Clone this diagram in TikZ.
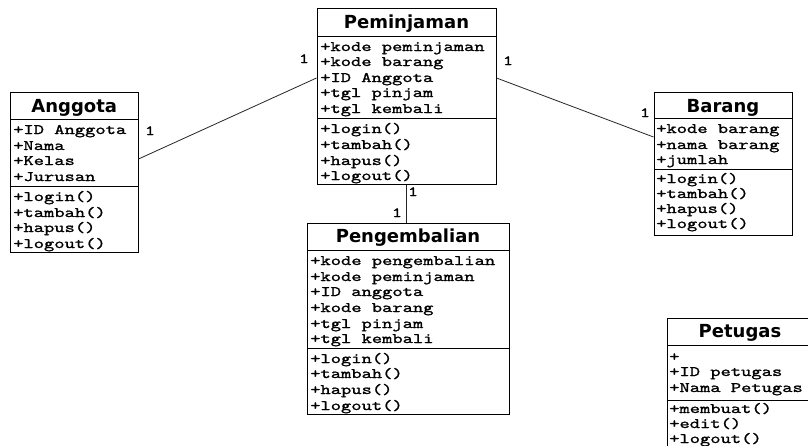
\documentclass[tikz,border=0pt]{standalone}
\usepackage{fontspec}
\newfontfamily\monof[FakeStretch=1.35,FakeBold=1.2]{lmmono10-regular.otf}
\newfontfamily\titlef{DejaVu Sans}
\begin{document}
\begin{tikzpicture}[x=1pt,y=-1pt,
  cls/.style={draw=black, line width=1pt, inner sep=0, fill=white},
  sep/.style={draw=black, line width=1pt},
  ttl/.style={anchor=base, inner sep=0, font=\titlef\bfseries\fontsize{18}{20}\selectfont},
  mem/.style={anchor=base west, inner sep=0, font=\monof\fontsize{14.5}{16}\selectfont},
  mult/.style={anchor=base, inner sep=0, font=\monof\fontsize{14}{15}\selectfont},
  assoc/.style={draw=black!85, line width=0.8pt}]
\useasboundingbox (0,0) rectangle (808,445);
\fill[white] (0,0) rectangle (808,445);
\clip (0,0) rectangle (808,445);

% Anggota
\node[cls, minimum width=127.5pt, minimum height=160pt] (ang) at (74.25,172) {};
\draw[sep] (10.5,119) -- (138,119);
\draw[sep] (10.5,186) -- (138,186);
\node[ttl] (angT) at (74.25,112) {Anggota};
\node[mem] (ang1) at (13,134) {+ID Anggota};
\node[mem] (ang2) at (13,150) {+Nama};
\node[mem] (ang3) at (13,165) {+Kelas};
\node[mem] (ang4) at (13,181) {+Jurusan};
\node[mem] (ang5) at (13,201) {+login()};
\node[mem] (ang6) at (13,217) {+tambah()};
\node[mem] (ang7) at (13,232) {+hapus()};
\node[mem] (ang8) at (13,248) {+logout()};

% Peminjaman
\node[cls, minimum width=179pt, minimum height=176pt] (pem) at (406.5,96) {};
\draw[sep] (317,36) -- (496,36);
\draw[sep] (317,118) -- (496,118);
\node[ttl] (pemT) at (406.5,28) {Peminjaman};
\node[mem] (pem1) at (320,51) {+kode peminjaman};
\node[mem] (pem2) at (320,66) {+kode barang};
\node[mem] (pem3) at (320,82) {+ID Anggota};
\node[mem] (pem4) at (320,97) {+tgl pinjam};
\node[mem] (pem5) at (320,113) {+tgl kembali};
\node[mem] (pem6) at (320,133) {+login()};
\node[mem] (pem7) at (320,149) {+tambah()};
\node[mem] (pem8) at (320,165) {+hapus()};
\node[mem] (pem9) at (320,180) {+logout()};

% Barang
\node[cls, minimum width=138pt, minimum height=143pt] (bar) at (723,163.5) {};
\draw[sep] (654,118) -- (792,118);
\draw[sep] (654,169) -- (792,169);
\node[ttl] (barT) at (723,112) {Barang};
\node[mem] (bar1) at (656,133) {+kode barang};
\node[mem] (bar2) at (656,149) {+nama barang};
\node[mem] (bar3) at (656,164) {+jumlah};
\node[mem] (bar4) at (656,183) {+login()};
\node[mem] (bar5) at (656,198) {+tambah()};
\node[mem] (bar6) at (656,213) {+hapus()};
\node[mem] (bar7) at (656,228) {+logout()};

% Pengembalian
\node[cls, minimum width=202pt, minimum height=191pt] (pen) at (408,318.5) {};
\draw[sep] (307,250) -- (509,250);
\draw[sep] (307,348) -- (509,348);
\node[ttl] (penT) at (408,242) {Pengembalian};
\node[mem] (pen1) at (310,265) {+kode pengembalian};
\node[mem] (pen2) at (310,281) {+kode peminjaman};
\node[mem] (pen3) at (310,296) {+ID anggota};
\node[mem] (pen4) at (310,312) {+kode barang};
\node[mem] (pen5) at (310,328) {+tgl pinjam};
\node[mem] (pen6) at (310,343) {+tgl kembali};
\node[mem] (pen7) at (310,363) {+login()};
\node[mem] (pen8) at (310,378) {+tambah()};
\node[mem] (pen9) at (310,394) {+hapus()};
\node[mem] (pen10) at (310,410) {+logout()};

% Petugas (cut off by the picture edge)
\node[cls, minimum width=148pt, minimum height=140pt] (pet) at (741,388) {};
\draw[sep] (667,345) -- (815,345);
\draw[sep] (667,400) -- (815,400);
\node[ttl] (petT) at (740,337) {Petugas};
\node[mem] (pet1) at (669,361) {+};
\node[mem] (pet2) at (669,376) {+ID petugas};
\node[mem] (pet3) at (669,392) {+Nama Petugas};
\node[mem] (pet4) at (669,413) {+membuat()};
\node[mem] (pet5) at (669,428) {+edit()};
\node[mem] (pet6) at (669,443) {+logout()};

% associations
\draw[assoc] ([yshift=13pt]ang.east) -- ([yshift=18pt]pem.west);
\draw[assoc] ([yshift=18pt]pem.east) -- ([yshift=26.5pt]bar.west);
\draw[draw=black!85, line width=1.5pt] (pem.south) -- (pem.south |- pen.north);

% multiplicities
\node[mult] (m1) at (150,135) {1};
\node[mult] (m2) at (304,63) {1};
\node[mult] (m3) at (508,65) {1};
\node[mult] (m4) at (645,117) {1};
\node[mult] (m5) at (413,196) {1};
\node[mult] (m6) at (397,217) {1};
\end{tikzpicture}
\end{document}
